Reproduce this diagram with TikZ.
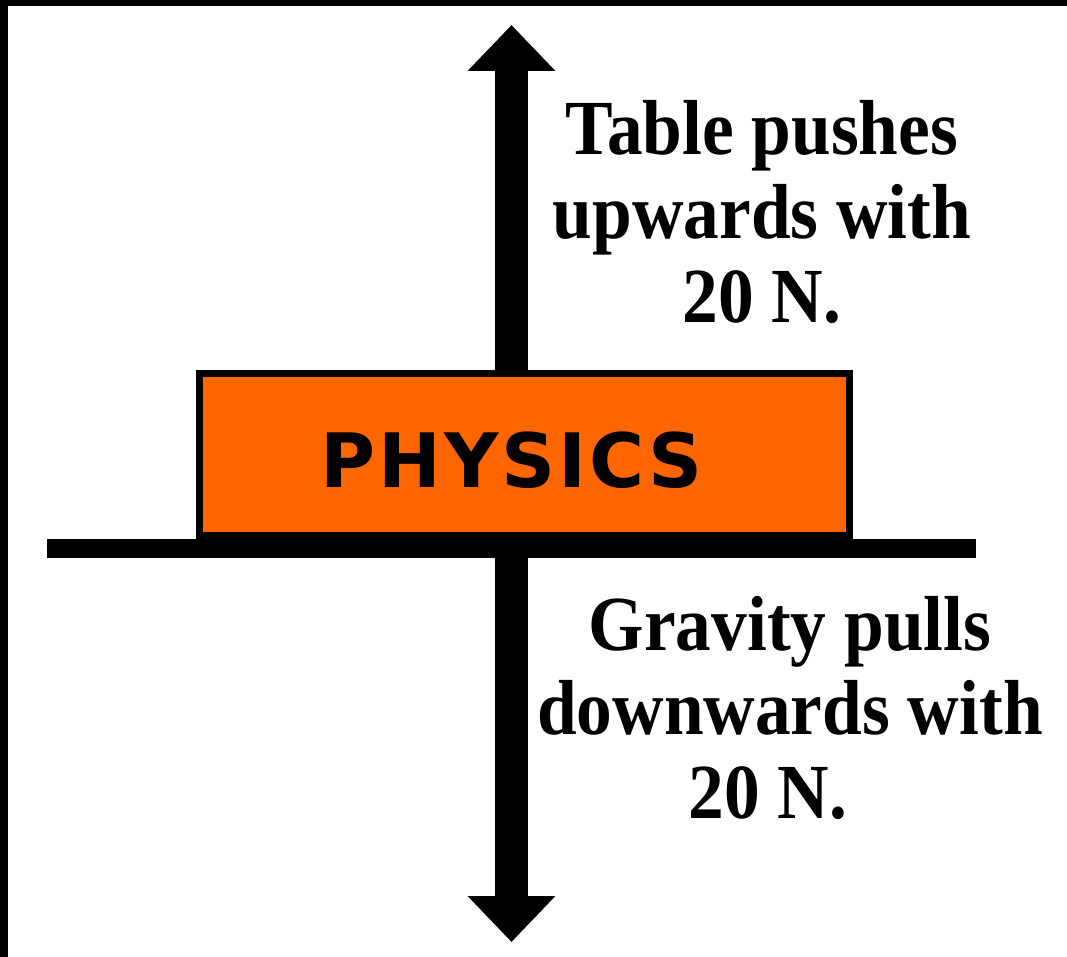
\documentclass[tikz,border=0pt]{standalone}
\usepackage{fontspec}
\setmainfont{Liberation Serif}
\newfontfamily\lblfont{Liberation Serif}[FakeStretch=0.915]
\newfontfamily\physfont{DejaVu Sans}[LetterSpace=4]
\usetikzlibrary{arrows.meta}
\definecolor{boxorange}{HTML}{FF6600}
\begin{document}
\begin{tikzpicture}[x=1pt,y=-1pt,
  force/.style={line width=33pt, -{Triangle[width=85pt,length=46pt]}},
  forcetext/.style={font=\lblfont\bfseries\fontsize{78}{84}\selectfont, align=center, anchor=base, inner sep=0pt},
]
\useasboundingbox (0,0) rectangle (1067,957);
\fill[white] (0,0) rectangle (1067,957);
\fill[black] (0,0) rectangle (1067,6);
\fill[black] (0,0) rectangle (8,957);
\coordinate (uptip) at (511.5,25);
\coordinate (downtip) at (511.5,942);
\node[draw=black, line width=7pt, fill=boxorange, minimum width=650pt, minimum height=162pt, inner sep=0pt] (box) at (524.5,454.5) {};
\node[fill=black, minimum width=929pt, minimum height=19pt, inner sep=0pt] (table) at (511.5,548.5) {};
\node[font=\physfont\bfseries\fontsize{75}{75}\selectfont, anchor=base, inner sep=0pt] (title) at (511.5,487) {PHYSICS};
\draw[force] (uptip |- box.north) -- (uptip);
\draw[force] (downtip |- table.south) -- (downtip);
\node[forcetext] (uptext) at (762,323) {Table pushes\\upwards with\\20 N.};
\node[forcetext] (downtext) at (790,818) {Gravity pulls\\downwards with\\20 N.\hspace*{44pt}};
\end{tikzpicture}
\end{document}
